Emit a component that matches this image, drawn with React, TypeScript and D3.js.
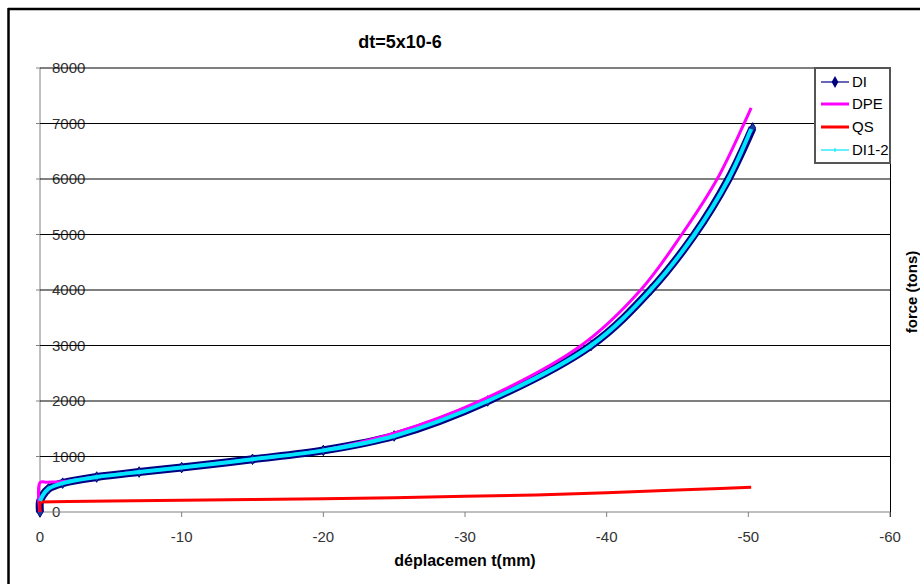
import React from "react";
import * as d3 from "d3";

const xTicks = [0, -10, -20, -30, -40, -50, -60];
const yTicks = [0, 1000, 2000, 3000, 4000, 5000, 6000, 7000, 8000];

// déplacement (mm), force (tons)
const diX = [0, 0, -0.2, -0.6, -1.6, -4, -7, -10, -15, -20, -25, -31.6, -38.9, -43.1, -46.2, -48.6, -50.3];
const diY = [0, 190, 300, 420, 520, 630, 720, 800, 950, 1110, 1370, 2000, 3000, 4000, 5000, 6000, 6920];

const dpeX = [0, 0, -0.5, -1.5, -4, -7, -10, -15, -20, -25, -31.1, -38.2, -42.4, -45.3, -47.8, -49.7, -50.2];
const dpeY = [0, 530, 538, 545, 635, 722, 802, 952, 1115, 1420, 2006, 3000, 4000, 5000, 6000, 7000, 7280];

const qsX = [0, 0, -2, -5, -10, -15, -20, -25, -30, -35, -40, -45, -48, -50.2];
const qsY = [0, 178, 188, 198, 213, 225, 237, 255, 285, 305, 345, 395, 425, 445];

const di12X = [0, -0.2, -0.6, -1.6, -4, -7, -10, -15, -20, -25, -31.6, -38.9, -43.1, -46.2, -48.6, -50.2];
const di12Y = [200, 300, 420, 520, 630, 720, 800, 950, 1110, 1370, 2000, 3000, 4000, 5000, 6000, 6900];

const legendNames = ["DI", "DPE", "QS", "DI1-2"];

const FONT = "Arial, 'Liberation Sans', sans-serif";

export default function App() {
  const x = d3.scaleLinear().domain([0, -60]).range([40, 890]);
  const y = d3.scaleLinear().domain([0, 8000]).range([512, 68]);

  const toPts = (xs: number[], ys: number[]) => xs.map((v, i) => [v, ys[i]] as [number, number]);
  const line = d3
    .line<[number, number]>()
    .x((d) => x(d[0]))
    .y((d) => y(d[1]))
    .curve(d3.curveCatmullRom.alpha(0.5));
  const straight = d3
    .line<[number, number]>()
    .x((d) => x(d[0]))
    .y((d) => y(d[1]));

  const di = toPts(diX, diY);
  const dpe = toPts(dpeX, dpeY);
  const qs = toPts(qsX, qsY);
  const di12 = toPts(di12X, di12Y);
  const diamond = d3.symbol().type(d3.symbolDiamond).size(32)() as string;
  const legDiamond = d3.symbol().type(d3.symbolDiamond).size(40)() as string;

  const legendY = [82, 104, 127, 150];

  return (
    <svg
      width={920}
      height={584}
      style={{ position: "absolute", left: 0, top: 0, background: "#fff" }}
      fontFamily={FONT}
    >
      <defs>
        <clipPath id="legclip">
          <rect x={815} y={68} width={75} height={95} />
        </clipPath>
        <clipPath id="plotclip">
          <rect x={30} y={60} width={870} height={465} />
        </clipPath>
      </defs>
      <rect x={0} y={0} width={920} height={584} fill="#fff" />
      {/* outer frame */}
      <line x1={8} y1={9} x2={920} y2={9} stroke="#000" strokeWidth={2.5} />
      <line x1={8.5} y1={8} x2={8.5} y2={584} stroke="#000" strokeWidth={2.5} />

      {/* title */}
      <text x={400} y={48} textAnchor="middle" fontSize={18} fontWeight="bold" fill="#000">
        dt=5x10-6
      </text>

      {/* y axis */}
      <line x1={40} x2={40} y1={68} y2={512} stroke="#808080" strokeWidth={1} />
      {yTicks.map((t) => (
        <g key={"yt" + t}>
          <line x1={36} x2={40} y1={y(t)} y2={y(t)} stroke="#808080" />
          <text x={52} y={y(t)} dy="0.35em" fontSize={15} fill="#333">
            {t}
          </text>
        </g>
      ))}
      {/* gridlines over labels (strike-through look) */}
      {yTicks.filter((t) => t > 0).map((t) => (
        <line key={"g" + t} x1={40} x2={890} y1={y(t)} y2={y(t)} stroke="#000" strokeWidth={1} />
      ))}
      {/* plot right border */}
      <line x1={890.5} x2={890.5} y1={68} y2={517} stroke="#000" strokeWidth={1} />

      {/* x axis */}
      <line x1={40} x2={890} y1={512} y2={512} stroke="#808080" strokeWidth={1} />
      {xTicks.map((t) => (
        <g key={"xt" + t}>
          <line x1={x(t)} x2={x(t)} y1={512} y2={517} stroke="#808080" />
          <text x={x(t)} y={542} textAnchor="middle" fontSize={15} fill="#333">
            {t}
          </text>
        </g>
      ))}

      {/* axis titles */}
      <text x={465} y={566} textAnchor="middle" fontSize={16} fontWeight="bold" fill="#000">
        déplacemen t(mm)
      </text>
      <text
        transform={`translate(917,292) rotate(-90)`}
        textAnchor="middle"
        fontSize={15}
        fontWeight="bold"
        fill="#000"
      >
        force (tons)
      </text>

      {/* series */}
      <g clipPath="url(#plotclip)">
        <path d={line(di) as string} fill="none" stroke="#000080" strokeWidth={8} strokeLinejoin="round" />
        {di.map((d, i) => (
          <path key={"dm" + i} d={diamond} transform={`translate(${x(d[0])},${y(d[1])})`} fill="#1a3d9a" stroke="#000080" strokeWidth={1} />
        ))}
        <path d={line(dpe) as string} fill="none" stroke="#ff00ff" strokeWidth={3} strokeLinejoin="round" />
        <path d={straight(qs) as string} fill="none" stroke="#ff0000" strokeWidth={3} strokeLinejoin="round" />
        <path d={line(di12) as string} fill="none" stroke="#00e5ff" strokeWidth={4} strokeLinejoin="round" />
      </g>

      {/* legend */}
      <rect x={815} y={68} width={75} height={95} fill="#fff" stroke="#555" strokeWidth={2} />
      <g clipPath="url(#legclip)">
        {legendNames.map((n, i) => {
          const ly = legendY[i];
          return (
            <g key={n}>
              {i === 0 && (
                <>
                  <line x1={821} x2={849} y1={ly} y2={ly} stroke="#000080" strokeWidth={1.2} />
                  <path d={legDiamond} transform={`translate(835,${ly})`} fill="#000080" />
                </>
              )}
              {i === 1 && <line x1={821} x2={849} y1={ly} y2={ly} stroke="#ff00ff" strokeWidth={3} />}
              {i === 2 && <line x1={821} x2={849} y1={ly} y2={ly} stroke="#ff0000" strokeWidth={3} />}
              {i === 3 && (
                <>
                  <line x1={821} x2={849} y1={ly} y2={ly} stroke="#00e5ff" strokeWidth={1.2} />
                  <line x1={835} x2={835} y1={ly - 2} y2={ly + 2} stroke="#00e5ff" strokeWidth={1} />
                </>
              )}
              <text x={852} y={ly} dy="0.36em" fontSize={15} fill="#000">
                {n}
              </text>
            </g>
          );
        })}
      </g>
    </svg>
  );
}
